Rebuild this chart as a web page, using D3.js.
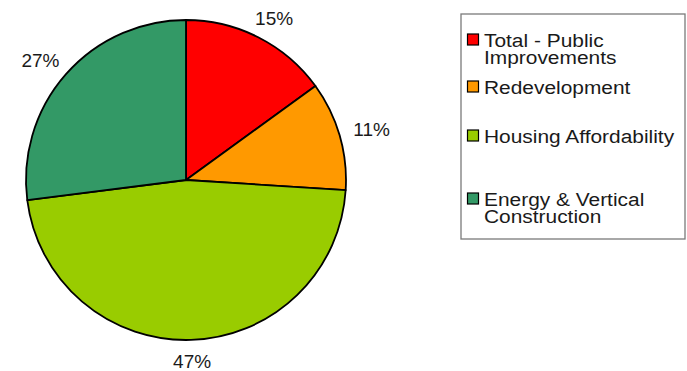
<!DOCTYPE html>
<html>
<head>
<meta charset="utf-8">
<script src="https://cdn.jsdelivr.net/npm/d3@7"></script>
<style>
  html, body { margin: 0; padding: 0; background: #fff; }
  svg { display: block; }
  text { font-family: Arial, "Liberation Sans", sans-serif; fill: #1a1a1a; }
</style>
</head>
<body>
<script>
// Spending shares by category
const categories = ["Total - Public Improvements", "Redevelopment", "Housing Affordability", "Energy & Vertical Construction"];
const legendLines = [["Total - Public", "Improvements"], ["Redevelopment"], ["Housing Affordability"], ["Energy & Vertical", "Construction"]];
const shares = [15, 11, 47, 27];
const colors = ["#ff0000", "#ff9900", "#99cc00", "#339966"];

const W = 687, H = 371;
const cx = 186, cy = 180, R = 160;

const svg = d3.select("body").append("svg")
  .attr("width", W).attr("height", H);

const pie = d3.pie().sort(null).value(d => d);
const arcs = pie(shares);
const arc = d3.arc().innerRadius(0).outerRadius(R);

const g = svg.append("g").attr("transform", `translate(${cx},${cy})`);

g.selectAll("path.slice")
  .data(arcs)
  .join("path")
  .attr("class", "slice")
  .attr("d", arc)
  .attr("fill", (d, i) => colors[i])
  .attr("stroke", "#000")
  .attr("stroke-width", 1.8)
  .attr("stroke-linejoin", "round");

// Percentage labels placed just outside each slice
const fontSize = 19;
const labelGap = 15;
g.selectAll("text.pct")
  .data(arcs)
  .join("text")
  .attr("class", "pct")
  .attr("font-size", fontSize)
  .attr("text-anchor", "middle")
  .attr("dy", "0.35em")
  .text(d => d.data + "%")
  .each(function (d) {
    const a = (d.startAngle + d.endAngle) / 2;
    const s = Math.sin(a), c = Math.cos(a);
    const w = this.getBBox().width, h = 13;
    const x = (R + labelGap) * s + s * w / 2;
    const y = -(R + labelGap) * c - c * h / 2;
    d3.select(this).attr("x", x).attr("y", y);
  });

// Legend
const legend = svg.append("g");
const lx = 461, ly = 14, lw = 224, lh = 225;
legend.append("rect")
  .attr("x", lx).attr("y", ly).attr("width", lw).attr("height", lh)
  .attr("fill", "#fff").attr("stroke", "#7a7a7a").attr("stroke-width", 1.3);

const rowBaselines = [47, 94, 143, 206];
const lineStep = 17.5;
const sw = 12;

const rows = legend.selectAll("g.row")
  .data(categories)
  .join("g")
  .attr("class", "row");

rows.append("rect")
  .attr("x", 467.5)
  .attr("y", (d, i) => rowBaselines[i] - 13)
  .attr("width", sw - 1).attr("height", sw - 1)
  .attr("fill", (d, i) => colors[i])
  .attr("stroke", "#000").attr("stroke-width", 1.2);

rows.append("text")
  .attr("font-size", fontSize)
  .attr("transform", (d, i) => `translate(484,${rowBaselines[i]}) scale(1.1,1)`)
  .each(function (d, i) {
    d3.select(this).selectAll("tspan")
      .data(legendLines[i])
      .join("tspan")
      .attr("x", 0)
      .attr("y", (t, j) => j * lineStep)
      .text(t => t);
  });
</script>
</body>
</html>
